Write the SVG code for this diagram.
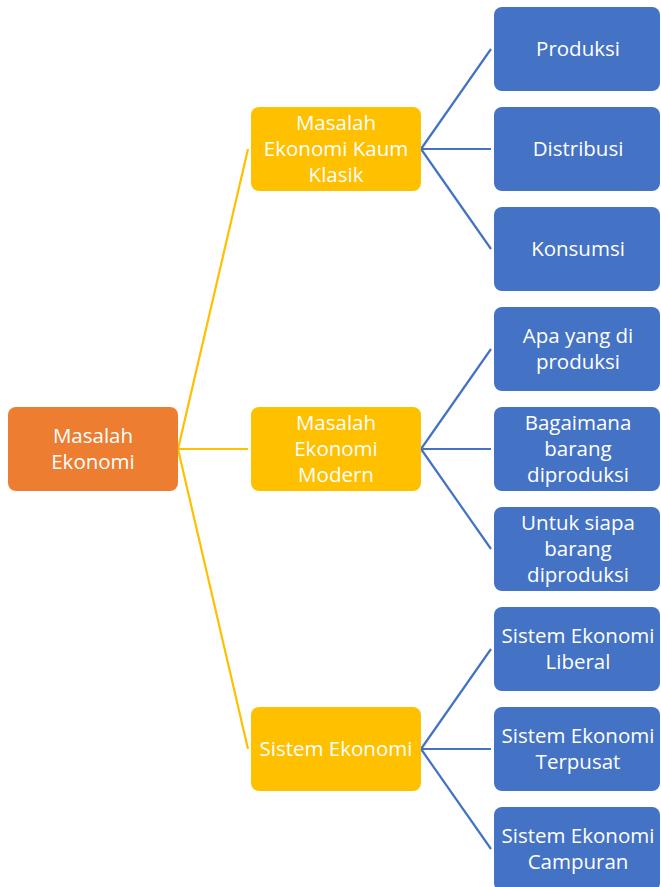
<svg xmlns="http://www.w3.org/2000/svg" width="661" height="887" viewBox="0 0 661 887">
<style>
.t{font-family:"Open Sans","Liberation Sans",sans-serif;font-size:20.5px;fill:#fff;text-anchor:middle}
.o{fill:#ED7D31}
.y{fill:#FFC000}
.b{fill:#4472C4}
.cy{stroke:#FFC000;stroke-width:2.2;fill:none}
.cb{stroke:#4472C4;stroke-width:2.2;fill:none}
</style>
<rect width="661" height="887" fill="#fff"/>
<g id="connectors">
<path class="cy" d="M178,449 L248,149 M178,449 L248,449 M178,449 L248,749"/>
<path class="cb" d="M421,149 L491,49 M421,149 L491,149 M421,149 L491,249"/>
<path class="cb" d="M421,449 L491,349 M421,449 L491,449 M421,449 L491,549"/>
<path class="cb" d="M421,749 L491,649 M421,749 L491,749 M421,749 L491,849"/>
</g>
<g id="root"><rect class="o" x="8" y="407" width="170" height="84" rx="8"/><text class="t" x="93" y="443">Masalah</text><text class="t" x="93" y="469">Ekonomi</text></g>
<g id="klasik"><rect class="y" x="251" y="107" width="170" height="84" rx="8"/><text class="t" x="336" y="130">Masalah</text><text class="t" x="336" y="156">Ekonomi Kaum</text><text class="t" x="336" y="182">Klasik</text></g>
<g id="modern"><rect class="y" x="251" y="407" width="170" height="84" rx="8"/><text class="t" x="336" y="430">Masalah</text><text class="t" x="336" y="456">Ekonomi</text><text class="t" x="336" y="482">Modern</text></g>
<g id="sistem"><rect class="y" x="251" y="707" width="170" height="84" rx="8"/><text class="t" x="336" y="756">Sistem Ekonomi</text></g>
<g id="produksi"><rect class="b" x="494" y="7" width="166" height="84" rx="8"/><text class="t" x="578" y="56">Produksi</text></g>
<g id="distribusi"><rect class="b" x="494" y="107" width="166" height="84" rx="8"/><text class="t" x="578" y="156">Distribusi</text></g>
<g id="konsumsi"><rect class="b" x="494" y="207" width="166" height="84" rx="8"/><text class="t" x="578" y="256">Konsumsi</text></g>
<g id="apa"><rect class="b" x="494" y="307" width="166" height="84" rx="8"/><text class="t" x="578" y="343">Apa yang di</text><text class="t" x="578" y="369">produksi</text></g>
<g id="bagaimana"><rect class="b" x="494" y="407" width="166" height="84" rx="8"/><text class="t" x="578" y="430">Bagaimana</text><text class="t" x="578" y="456">barang</text><text class="t" x="578" y="482">diproduksi</text></g>
<g id="untuk"><rect class="b" x="494" y="507" width="166" height="84" rx="8"/><text class="t" x="578" y="530">Untuk siapa</text><text class="t" x="578" y="556">barang</text><text class="t" x="578" y="582">diproduksi</text></g>
<g id="liberal"><rect class="b" x="494" y="607" width="166" height="84" rx="8"/><text class="t" x="578" y="643">Sistem Ekonomi</text><text class="t" x="578" y="669">Liberal</text></g>
<g id="terpusat"><rect class="b" x="494" y="707" width="166" height="84" rx="8"/><text class="t" x="578" y="743">Sistem Ekonomi</text><text class="t" x="578" y="769">Terpusat</text></g>
<g id="campuran"><rect class="b" x="494" y="807" width="166" height="84" rx="8"/><text class="t" x="578" y="843">Sistem Ekonomi</text><text class="t" x="578" y="869">Campuran</text></g>
</svg>
